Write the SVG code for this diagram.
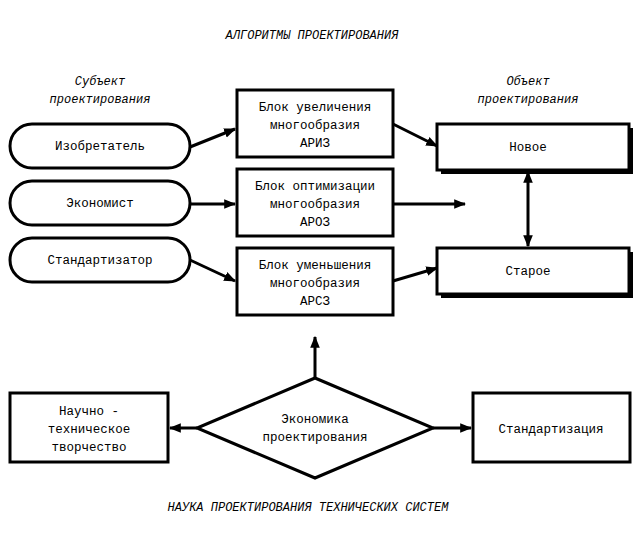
<svg xmlns="http://www.w3.org/2000/svg" width="642" height="535" viewBox="0 0 642 535" font-family="Liberation Mono, Courier New, DejaVu Sans Mono, monospace">
<defs>
<marker id="a" viewBox="0 0 10 10" refX="9" refY="5" markerWidth="4" markerHeight="4" orient="auto"><path d="M0,1 L10,5 L0,9 z" fill="#000"/></marker>
<marker id="s" viewBox="0 0 10 10" refX="1" refY="5" markerWidth="4" markerHeight="4" orient="auto"><path d="M10,1 L0,5 L10,9 z" fill="#000"/></marker>
</defs>
<style>
text{font-family:'Liberation Mono','Courier New','DejaVu Sans Mono',monospace;font-size:12.5px;text-anchor:middle;fill:#000}
.i{font-style:italic;font-size:12px}
.b{fill:#fff;stroke:#000;stroke-width:3}
.c{stroke:#000;stroke-width:3;fill:none}
</style>
<rect width="642" height="535" fill="#fff"/>
<text class="i" x="312" y="39">АЛГОРИТМЫ ПРОЕКТИРОВАНИЯ</text>
<text class="i" x="100" y="85">Субъект</text>
<text class="i" x="100" y="103">проектирования</text>
<text class="i" x="528" y="85">Объект</text>
<text class="i" x="528" y="103">проектирования</text>
<text class="i" x="308" y="511">НАУКА ПРОЕКТИРОВАНИЯ ТЕХНИЧЕСКИХ СИСТЕМ</text>
<g id="connectors">
<path class="c" d="M190,147 L235,129" marker-end="url(#a)"/>
<path class="c" d="M393,124 L437,146" marker-end="url(#a)"/>
<path class="c" d="M190,204 L235,204" marker-end="url(#a)"/>
<path class="c" d="M393,204 L465,204" marker-end="url(#a)"/>
<path class="c" d="M190,260 L235,281" marker-end="url(#a)"/>
<path class="c" d="M393,281 L437,268" marker-end="url(#a)"/>
<path class="c" d="M528,172 L528,246" marker-start="url(#s)" marker-end="url(#a)"/>
<path class="c" d="M315,378 L315,337" marker-end="url(#a)"/>
<path class="c" d="M197,428 L170,428" marker-end="url(#a)"/>
<path class="c" d="M433,428 L471,428" marker-end="url(#a)"/>
</g>
<g id="n1"><rect class="b" x="10" y="124" width="180" height="44" rx="22"/><text x="100" y="150">Изобретатель</text></g>
<g id="n2"><rect class="b" x="10" y="181" width="180" height="44" rx="22"/><text x="100" y="207">Экономист</text></g>
<g id="n3"><rect class="b" x="10" y="238" width="180" height="44" rx="22"/><text x="100" y="264">Стандартизатор</text></g>
<g id="b1"><rect class="b" x="237" y="90" width="156" height="67"/><text x="315" y="111">Блок увеличения</text><text x="315" y="129">многообразия</text><text x="315" y="147">АРИЗ</text></g>
<g id="b2"><rect class="b" x="237" y="169" width="156" height="67"/><text x="315" y="190">Блок оптимизации</text><text x="315" y="208">многообразия</text><text x="315" y="226">АРОЗ</text></g>
<g id="b3"><rect class="b" x="237" y="248" width="156" height="67"/><text x="315" y="269">Блок уменьшения</text><text x="315" y="287">многообразия</text><text x="315" y="305">АРСЗ</text></g>
<g id="new"><rect x="441" y="128" width="192" height="46" fill="#000"/><rect class="b" x="437" y="124" width="192" height="46"/><text x="528" y="151">Новое</text></g>
<g id="old"><rect x="441" y="252" width="192" height="46" fill="#000"/><rect class="b" x="437" y="248" width="192" height="46"/><text x="528" y="275">Старое</text></g>
<g id="dia"><path class="b" d="M315,378 L433,428 L315,478 L197,428 Z"/><text x="315" y="423">Экономика</text><text x="315" y="441">проектирования</text></g>
<g id="nt"><rect class="b" x="10" y="393" width="158" height="69"/><text x="89" y="415">Научно -</text><text x="89" y="433">техническое</text><text x="89" y="451">творчество</text></g>
<g id="st"><rect class="b" x="473" y="393" width="157" height="69"/><text x="551" y="433">Стандартизация</text></g>
</svg>
